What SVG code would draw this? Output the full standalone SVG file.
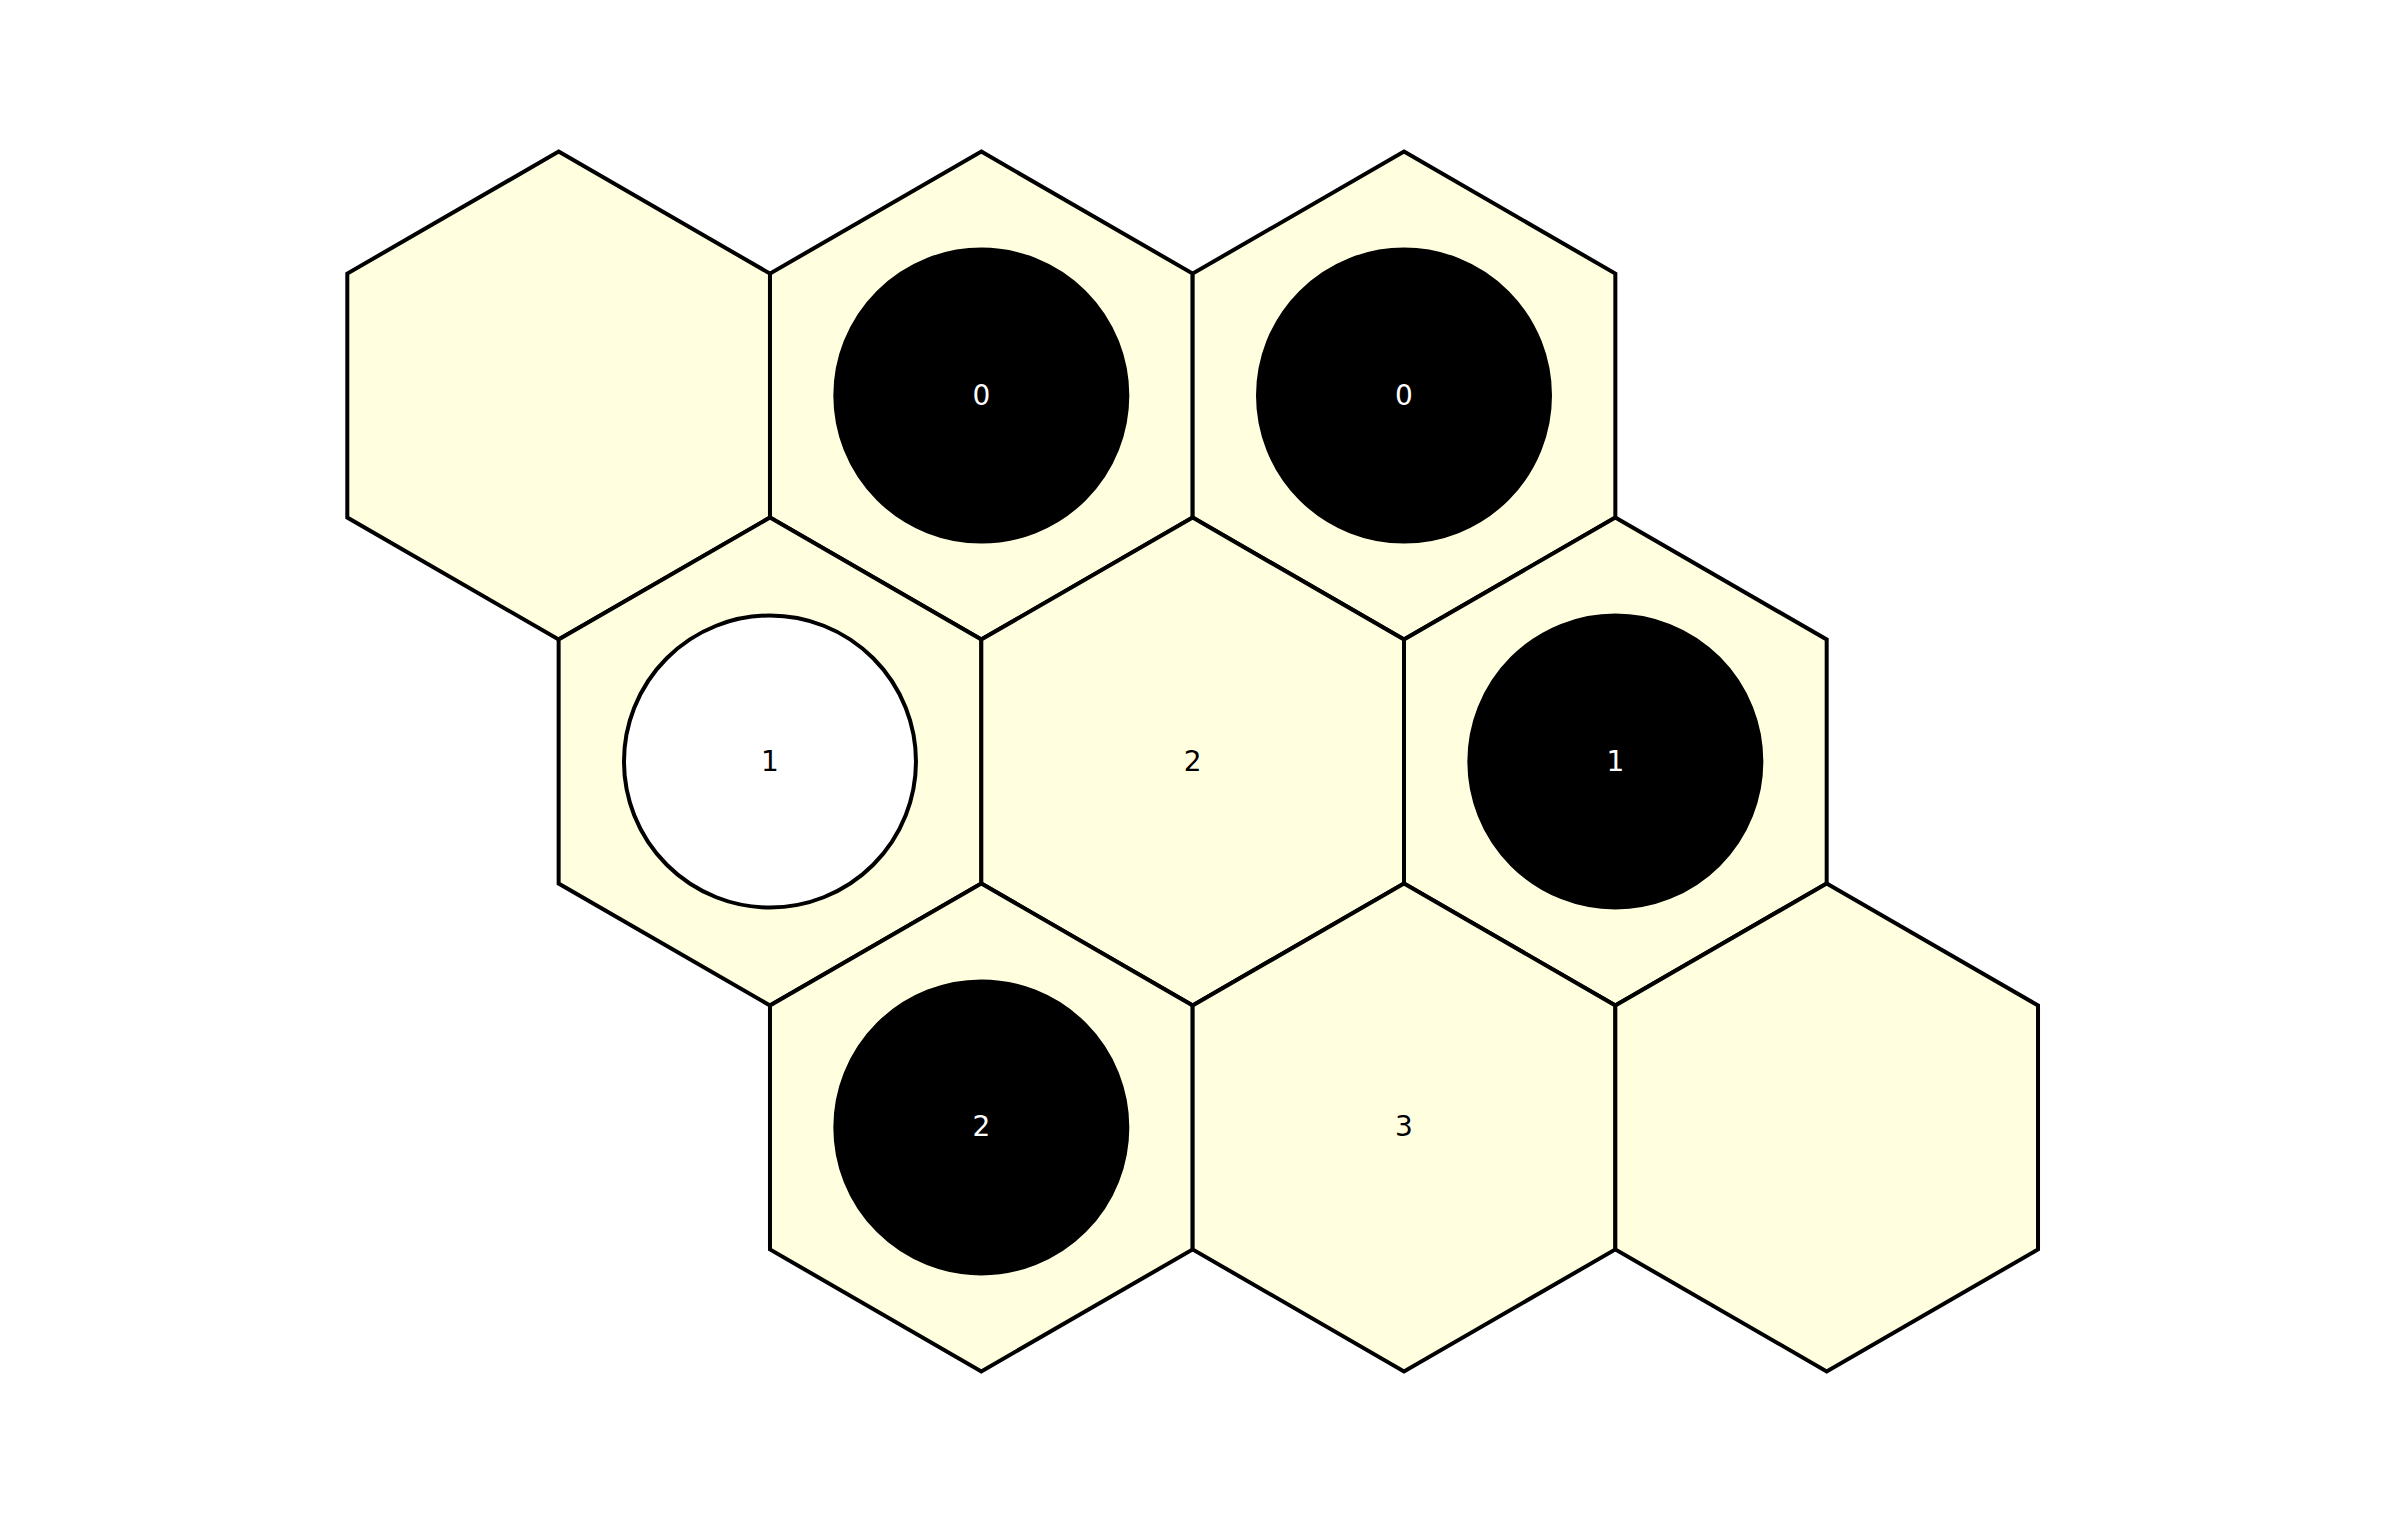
<svg xmlns="http://www.w3.org/2000/svg" width="2385" height="1524" viewBox="0 0 2385 1524">
<defs>
<style>
.hex{fill:#ffffe0;stroke:#000;stroke-width:4;stroke-linejoin:miter}
.blk{fill:#000;stroke:#000;stroke-width:4}
.wht{fill:#fff;stroke:#000;stroke-width:4}
.t{font-family:"DejaVu Sans",sans-serif;font-size:28px;text-anchor:middle}
.tw{fill:#fff}
.tb{fill:#000}
</style>
<polygon id="hx" points="0,-243.96 211.34,-121.98 211.34,121.98 0,243.96 -211.34,121.98 -211.34,-121.98"/>
</defs>
<rect width="2385" height="1524" fill="#fff"/>
<g id="connectors"></g>
<g id="hex-0-0" transform="translate(558.64,395.56)"><use href="#hx" class="hex"/></g>
<g id="hex-0-1" transform="translate(981.32,395.56)"><use href="#hx" class="hex"/><circle r="146" class="blk"/><text y="9" class="t tw">0</text></g>
<g id="hex-0-2" transform="translate(1404,395.56)"><use href="#hx" class="hex"/><circle r="146" class="blk"/><text y="9" class="t tw">0</text></g>
<g id="hex-1-0" transform="translate(769.98,761.5)"><use href="#hx" class="hex"/><circle r="146" class="wht"/><text y="9" class="t tb">1</text></g>
<g id="hex-1-1" transform="translate(1192.66,761.5)"><use href="#hx" class="hex"/><text y="9" class="t tb">2</text></g>
<g id="hex-1-2" transform="translate(1615.34,761.5)"><use href="#hx" class="hex"/><circle r="146" class="blk"/><text y="9" class="t tw">1</text></g>
<g id="hex-2-0" transform="translate(981.32,1127.44)"><use href="#hx" class="hex"/><circle r="146" class="blk"/><text y="9" class="t tw">2</text></g>
<g id="hex-2-1" transform="translate(1404,1127.44)"><use href="#hx" class="hex"/><text y="9" class="t tb">3</text></g>
<g id="hex-2-2" transform="translate(1826.68,1127.44)"><use href="#hx" class="hex"/></g>
</svg>
